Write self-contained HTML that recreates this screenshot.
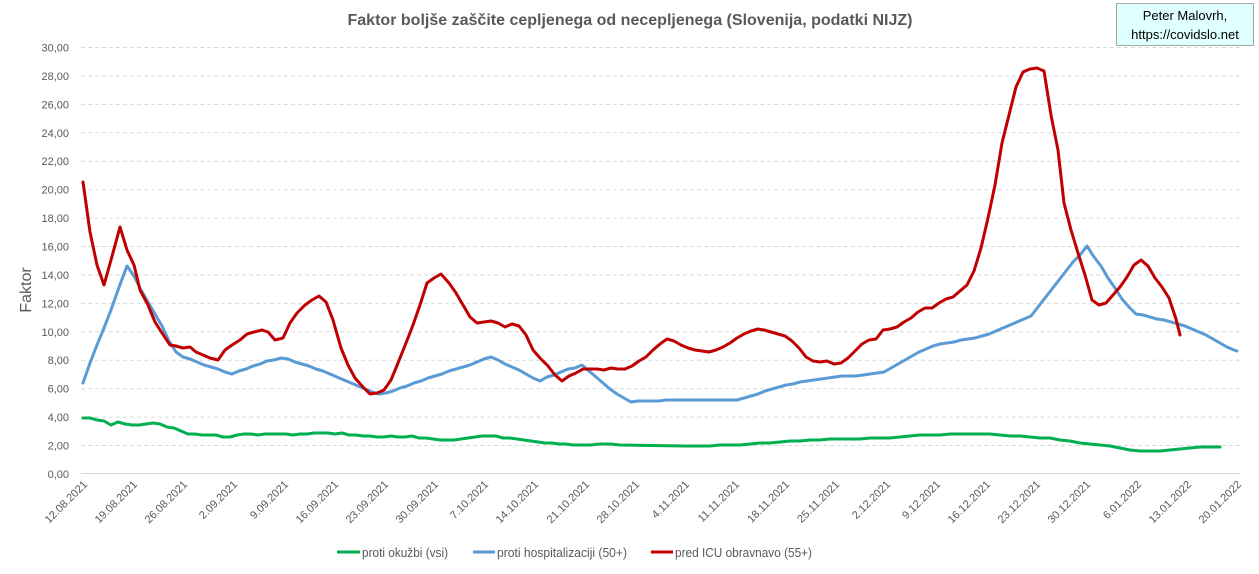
<!DOCTYPE html>
<html><head><meta charset="utf-8"><style>
body{margin:0;background:#fff}
svg{display:block;font-family:"Liberation Sans",sans-serif}
</style></head><body>
<svg width="1259" height="574" viewBox="0 0 1259 574">
<rect width="1259" height="574" fill="#fff"/>
<text x="630" y="25" text-anchor="middle" font-size="16" font-weight="bold" fill="#595959" textLength="565" lengthAdjust="spacingAndGlyphs">Faktor boljše zaščite cepljenega od necepljenega (Slovenija, podatki NIJZ)</text>
<rect x="1116.5" y="3.5" width="137" height="42" fill="#e0ffff" stroke="#a6a6a6"/>
<text x="1185" y="20" text-anchor="middle" font-size="13" fill="#000">Peter Malovrh,</text>
<text x="1185" y="39" text-anchor="middle" font-size="13" fill="#000">https://covidslo.net</text>
<g stroke="#d9d9d9" stroke-dasharray="4,3" stroke-width="1">
<line x1="81" x2="1240" y1="47.5" y2="47.5"/><line x1="81" x2="1240" y1="75.9" y2="75.9"/><line x1="81" x2="1240" y1="104.4" y2="104.4"/><line x1="81" x2="1240" y1="132.8" y2="132.8"/><line x1="81" x2="1240" y1="161.2" y2="161.2"/><line x1="81" x2="1240" y1="189.7" y2="189.7"/><line x1="81" x2="1240" y1="218.1" y2="218.1"/><line x1="81" x2="1240" y1="246.5" y2="246.5"/><line x1="81" x2="1240" y1="274.9" y2="274.9"/><line x1="81" x2="1240" y1="303.4" y2="303.4"/><line x1="81" x2="1240" y1="331.8" y2="331.8"/><line x1="81" x2="1240" y1="360.2" y2="360.2"/><line x1="81" x2="1240" y1="388.7" y2="388.7"/><line x1="81" x2="1240" y1="417.1" y2="417.1"/><line x1="81" x2="1240" y1="445.5" y2="445.5"/>
</g>
<line x1="81" x2="1240" y1="473.5" y2="473.5" stroke="#d9d9d9"/>
<g font-size="11" fill="#595959" text-anchor="end">
<text x="69" y="51.5">30,00</text><text x="69" y="80">28,00</text><text x="69" y="108.5">26,00</text><text x="69" y="137">24,00</text><text x="69" y="165">22,00</text><text x="69" y="193.5">20,00</text><text x="69" y="222">18,00</text><text x="69" y="250.5">16,00</text><text x="69" y="279">14,00</text><text x="69" y="307.5">12,00</text><text x="69" y="336">10,00</text><text x="69" y="364">8,00</text><text x="69" y="392.5">6,00</text><text x="69" y="421">4,00</text><text x="69" y="449.5">2,00</text><text x="69" y="478">0,00</text>
</g>
<text transform="translate(31,290) rotate(-90)" text-anchor="middle" font-size="16" fill="#595959">Faktor</text>
<g font-size="11" fill="#595959" text-anchor="end">
<text transform="translate(88,485) rotate(-45)">12.08.2021</text>
<text transform="translate(138,485) rotate(-45)">19.08.2021</text>
<text transform="translate(188,485) rotate(-45)">26.08.2021</text>
<text transform="translate(238,485) rotate(-45)">2.09.2021</text>
<text transform="translate(289,485) rotate(-45)">9.09.2021</text>
<text transform="translate(339,485) rotate(-45)">16.09.2021</text>
<text transform="translate(389,485) rotate(-45)">23.09.2021</text>
<text transform="translate(439,485) rotate(-45)">30.09.2021</text>
<text transform="translate(489,485) rotate(-45)">7.10.2021</text>
<text transform="translate(539,485) rotate(-45)">14.10.2021</text>
<text transform="translate(590,485) rotate(-45)">21.10.2021</text>
<text transform="translate(640,485) rotate(-45)">28.10.2021</text>
<text transform="translate(690,485) rotate(-45)">4.11.2021</text>
<text transform="translate(740,485) rotate(-45)">11.11.2021</text>
<text transform="translate(790,485) rotate(-45)">18.11.2021</text>
<text transform="translate(840,485) rotate(-45)">25.11.2021</text>
<text transform="translate(891,485) rotate(-45)">2.12.2021</text>
<text transform="translate(941,485) rotate(-45)">9.12.2021</text>
<text transform="translate(991,485) rotate(-45)">16.12.2021</text>
<text transform="translate(1041,485) rotate(-45)">23.12.2021</text>
<text transform="translate(1091,485) rotate(-45)">30.12.2021</text>
<text transform="translate(1142,485) rotate(-45)">6.01.2022</text>
<text transform="translate(1192,485) rotate(-45)">13.01.2022</text>
<text transform="translate(1242,485) rotate(-45)">20.01.2022</text>
</g>
<g fill="none" stroke-width="3" stroke-linejoin="round" stroke-linecap="round">
<polyline stroke="#00b050" points="83,418 90,418 97,420 104,421 111,425 118,422 125,424 132,425 139,425 146,424 153,423 160,424 167,427 174,428 181,431 188,434 195,434 202,435 209,435 216,435 223,437 230,437 237,435 244,434 251,434 258,435 265,434 272,434 279,434 286,434 293,435 300,434 307,434 314,433 321,433 328,433 335,434 342,433 349,435 356,435 363,436 370,436 377,437 384,437 391,436 398,437 405,437 412,436 419,438 426,438 433,439 440,440 447,440 454,440 461,439 468,438 475,437 482,436 489,436 496,436 503,438 510,438 517,439 524,440 531,441 538,442 545,443 552,443 559,444 566,444 573,445 580,445 590,445 600,444 610,444 620,445 685,446 700,446 710,446 720,445 740,445 750,444 760,443 770,443 780,442 790,441 800,441 810,440 820,440 830,439 840,439 860,439 870,438 890,438 900,437 910,436 920,435 940,435 950,434 990,434 1000,435 1010,436 1020,436 1030,437 1040,438 1050,438 1060,440 1070,441 1080,443 1090,444 1100,445 1110,446 1120,448 1130,450 1140,451 1160,451 1170,450 1180,449 1190,448 1200,447 1220,447"/>
<polyline stroke="#5b9bd5" points="83,383 90,363 97,345 104,328 111,310 118,290 127,266 134,276 141,290 148,302 155,314 162,326 169,341 176,352 183,357 190,359 197,362 204,365 211,367 218,369 225,372 232,374 239,371 246,369 253,366 260,364 267,361 274,360 281,358 288,359 295,362 302,364 309,366 316,369 323,371 330,374 337,377 344,380 351,383 358,386 365,389 372,392 379,394 386,393 393,391 400,388 407,386 414,383 421,381 428,378 435,376 442,374 449,371 456,369 463,367 470,365 477,362 484,359 491,357 498,360 505,364 512,367 519,370 526,374 533,378 540,381 547,377 554,375 561,372 568,369 575,368 582,365 589,371 596,377 603,383 610,389 617,394 624,398 631,402 638,401 659,401 666,400 737,400 744,398 751,396 758,394 765,391 772,389 779,387 786,385 793,384 800,382 807,381 814,380 821,379 828,378 835,377 842,376 856,376 863,375 870,374 877,373 884,372 891,368 898,364 905,360 912,356 919,352 926,349 933,346 940,344 947,343 954,342 961,340 968,339 975,338 982,336 989,334 996,331 1003,328 1010,325 1017,322 1024,319 1031,316 1038,307 1045,298 1052,289 1059,280 1066,271 1073,262 1080,255 1087,246 1094,257 1101,266 1108,278 1115,288 1122,299 1129,307 1136,314 1143,315 1150,317 1157,319 1164,320 1171,322 1178,324 1185,326 1192,329 1199,332 1206,335 1213,339 1220,343 1227,347 1234,350 1237,351"/>
<polyline stroke="#c00000" points="83,182 90,232 97,265 104,285 111,260 120,227 127,250 134,265 140,290 148,305 155,322 162,333 170,345 176,346 183,348 190,347 196,352 203,355 210,358 218,360 225,350 232,345 240,340 247,334 254,332 262,330 268,332 275,340 283,338 290,323 297,313 305,305 312,300 319,296 326,302 333,320 341,348 348,365 355,378 363,387 370,394 377,393 384,390 391,380 398,363 406,343 413,325 420,305 427,283 434,278 441,274 449,283 456,293 463,305 470,317 477,323 484,322 491,321 498,323 505,327 512,324 519,326 526,335 533,350 540,358 548,366 555,375 562,381 569,376 576,373 583,369 597,369 604,370 611,368 618,369 625,369 632,366 639,361 646,357 653,350 660,344 667,339 674,341 681,345 688,348 695,350 702,351 709,352 716,350 723,347 730,343 737,338 744,334 751,331 758,329 764,330 771,332 778,334 785,336 792,341 799,348 806,357 813,361 820,362 827,361 834,364 841,363 848,358 855,351 862,344 869,340 876,339 883,330 890,329 897,327 904,322 911,318 918,312 925,308 932,308 939,303 946,299 953,297 960,291 967,285 974,271 981,248 988,218 995,185 1002,143 1009,115 1016,87 1023,72 1030,69 1037,68 1044,71 1051,115 1058,150 1064,203 1071,230 1078,253 1085,275 1092,300 1099,305 1106,303 1113,295 1120,287 1127,277 1134,265 1141,260 1148,266 1155,278 1162,287 1169,298 1176,319 1180,335"/>
</g>
<g font-size="13" fill="#595959">
<line x1="337" x2="360" y1="552" y2="552" stroke="#00b050" stroke-width="3"/><text x="362" y="557" textLength="86" lengthAdjust="spacingAndGlyphs">proti okužbi (vsi)</text>
<line x1="473" x2="495" y1="552" y2="552" stroke="#5b9bd5" stroke-width="3"/><text x="497" y="557" textLength="130" lengthAdjust="spacingAndGlyphs">proti hospitalizaciji (50+)</text>
<line x1="651" x2="673" y1="552" y2="552" stroke="#c00000" stroke-width="3"/><text x="675" y="557" textLength="137" lengthAdjust="spacingAndGlyphs">pred ICU obravnavo (55+)</text>
</g>
</svg>
</body></html>
